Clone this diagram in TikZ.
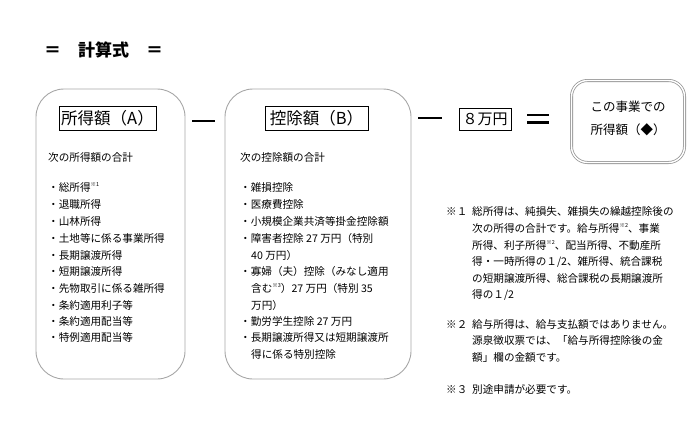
\documentclass[tikz,border=0pt]{standalone}
\usepackage{fontspec}
\setmainfont{Noto Sans CJK JP}
\newcommand{\kome}[1]{\raisebox{0.9ex}{\fontsize{5.5}{6}\selectfont ※#1}}
\begin{document}
\begin{tikzpicture}[x=1pt,y=-1pt,
  lbl/.style={anchor=west, inner sep=0pt, font=\fontsize{10.6}{12}\selectfont, text height=8.6pt, text depth=1.9pt},
  bigbox/.style={draw=black!35, line width=0.9pt, rounded corners=28pt, inner sep=0pt},
  headbox/.style={draw=black, line width=0.7pt, inner sep=0pt, minimum height=24pt, font=\fontsize{16.5}{18}\selectfont},
  opline/.style={line width=2.6pt}]
\useasboundingbox (0,0) rectangle (700,445);

% title
\node[anchor=west, inner sep=0pt, font=\fontsize{17}{20}\selectfont\bfseries] (title) at (44,50) {＝　計算式　＝};

% box A
\node[bigbox, minimum width=149pt, minimum height=290pt] (boxA) at (110.5,234) {};
\node[headbox, minimum width=97pt] (headA) at (107.5,118) {所得額（A）};
\node[lbl] (subA) at (48,158) {次の所得額の合計};
\node[lbl] (a1) at (48,188) {・総所得\kome{1}};
\node[lbl] (a2) at (48,205) {・退職所得};
\node[lbl] (a3) at (48,222) {・山林所得};
\node[lbl] (a4) at (48,239) {・土地等に係る事業所得};
\node[lbl] (a5) at (48,256) {・長期譲渡所得};
\node[lbl] (a6) at (48,272) {・短期譲渡所得};
\node[lbl] (a7) at (48,289) {・先物取引に係る雑所得};
\node[lbl] (a8) at (48,306) {・条約適用利子等};
\node[lbl] (a9) at (48,322) {・条約適用配当等};
\node[lbl] (a10) at (48,338) {・特例適用配当等};

% minus 1
\coordinate (m1a) at (192,121);
\coordinate (m1b) at (215,121);
\draw[opline] (m1a) -- (m1b);

% box B
\node[bigbox, minimum width=186pt, minimum height=290pt] (boxB) at (318,234) {};
\node[headbox, minimum width=103pt] (headB) at (316.5,118) {控除額（B）};
\node[lbl] (subB) at (240,158) {次の控除額の合計};
\node[lbl] (b1) at (240,188) {・雑損控除};
\node[lbl] (b2) at (240,205) {・医療費控除};
\node[lbl] (b3) at (240,222) {・小規模企業共済等掛金控除額};
\node[lbl] (b4) at (240,239) {・障害者控除 27 万円（特別};
\node[lbl] (b5) at (251,256) {40 万円）};
\node[lbl] (b6) at (240,272) {・寡婦（夫）控除（みなし適用};
\node[lbl] (b7) at (251,289) {含む\kome{3}）27 万円（特別 35};
\node[lbl] (b8) at (251,306) {万円）};
\node[lbl] (b9) at (240,322) {・勤労学生控除 27 万円};
\node[lbl] (b10) at (240,338) {・長期譲渡所得又は短期譲渡所};
\node[lbl] (b11) at (251,355) {得に係る特別控除};

% minus 2
\coordinate (m2a) at (418,118);
\coordinate (m2b) at (442,118);
\draw[opline] (m2a) -- (m2b);

% 8 man yen
\node[draw=black, line width=0.7pt, inner sep=1.5pt, minimum width=52pt, minimum height=22pt, font=\fontsize{15}{17}\selectfont] (eight) at (485,119) {８万円};

% equals
\coordinate (e1a) at (527,115);
\coordinate (e1b) at (549,115);
\coordinate (e2a) at (527,122.5);
\coordinate (e2b) at (549,122.5);
\draw[line width=2.4pt] (e1a) -- (e1b);
\draw[line width=2.4pt] (e2a) -- (e2b);

% result
\node[draw=black!40, line width=0.8pt, double=white, double distance=1.4pt, rounded corners=16pt, minimum width=113pt, minimum height=82pt, inner sep=0pt] (res) at (628,121.5) {};
\node[inner sep=0pt, font=\fontsize{12.5}{14}\selectfont, anchor=center] (res1) at (628,107) {この事業での};
\node[inner sep=0pt, font=\fontsize{12.5}{14}\selectfont, anchor=center] (res2) at (628,130) {所得額（◆）};

% notes
\node[lbl] (n1k) at (446,212) {※１};
\node[lbl] (n1a) at (472,212) {総所得は、純損失、雑損失の繰越控除後の};
\node[lbl] (n1b) at (472,229) {次の所得の合計です。給与所得\kome{2}、事業};
\node[lbl] (n1c) at (472,246) {所得、利子所得\kome{2}、配当所得、不動産所};
\node[lbl] (n1d) at (472,262) {得・一時所得の１/2、雑所得、統合課税};
\node[lbl] (n1e) at (472,279) {の短期譲渡所得、総合課税の長期譲渡所};
\node[lbl] (n1f) at (472,295) {得の１/2};
\node[lbl] (n2k) at (446,325) {※２};
\node[lbl] (n2a) at (472,325) {給与所得は、給与支払額ではありません。};
\node[lbl] (n2b) at (472,341) {源泉徴収票では、「給与所得控除後の金};
\node[lbl] (n2c) at (472,358) {額」欄の金額です。};
\node[lbl] (n3k) at (446,390) {※３};
\node[lbl] (n3a) at (472,390) {別途申請が必要です。};
\end{tikzpicture}
\end{document}
